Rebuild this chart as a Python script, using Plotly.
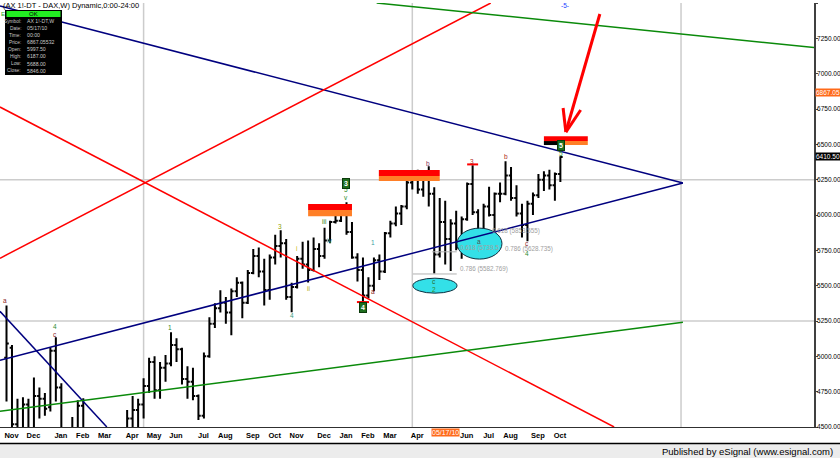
import plotly.graph_objects as go
import pandas as pd

# ---------------- data (weekly bars, first bar = week of 2008-11-03) ----------------
FIRST_WEEK = pd.Timestamp("2008-11-03")

opens = [4990, 5060, 4520, 4130, 4660, 4380, 4720, 4700, 4640, 5040,
         4780, 4420, 4200, 4350, 4650, 4460, 4200, 3880, 3700, 3960,
         4020, 4160, 4420, 4560, 4620, 4660, 4790, 4960, 4760, 4920,
         4950, 5080, 5050, 4840, 4820, 4720, 4580, 5000, 5230, 5340,
         5380, 5310, 5460, 5520, 5380, 5590, 5710, 5600, 5470, 5700,
         5780, 5800, 5420, 5490, 5690, 5650, 5610, 5760, 5710, 5820,
         5950, 5960, 6040, 5880, 5700, 5610, 5430, 5500, 5680, 5600,
         5870, 5940, 6010, 6060, 6230, 6260, 6180, 6260, 6150, 5720,
         5950, 5830, 5940, 5770, 5970, 6220, 6020, 5830, 6060, 6000,
         6150, 6150, 6280, 6120, 6010, 5930, 6080, 6140, 6250, 6280,
         6210, 6290]
highs = [5360, 5080, 4700, 4710, 4700, 4850, 4780, 4740, 5063, 5135,
         4810, 4460, 4570, 4690, 4703, 4480, 4270, 3920, 4000, 4100,
         4280, 4480, 4620, 4720, 4700, 4845, 4990, 5000, 4960, 5010,
         5170, 5128, 5060, 4930, 4920, 4730, 5027, 5277, 5375, 5467,
         5420, 5480, 5560, 5530, 5610, 5760, 5770, 5690, 5720, 5860,
         5892, 5830, 5520, 5710, 5810, 5820, 5840, 5800, 5910, 5960,
         6030, 6060, 6090, 5950, 5730, 5700, 5560, 5700, 5720, 5880,
         5960, 6060, 6070, 6240, 6280, 6320, 6290, 6345, 6196, 6120,
         6100, 5970, 6030, 5990, 6230, 6352, 6040, 6080, 6200, 6160,
         6230, 6380, 6340, 6210, 6080, 6100, 6160, 6290, 6310, 6320,
         6300, 6415]
lows = [4680, 4400, 4000, 4050, 4200, 4350, 4560, 4580, 4610, 4680,
        4330, 4150, 4100, 4300, 4420, 4150, 3850, 3590, 3650, 3900,
        3950, 4050, 4380, 4450, 4470, 4560, 4740, 4700, 4700, 4820,
        4930, 4960, 4800, 4700, 4690, 4550, 4560, 4990, 5200, 5310,
        5230, 5150, 5420, 5270, 5370, 5580, 5560, 5360, 5400, 5650,
        5700, 5400, 5312, 5480, 5620, 5522, 5600, 5630, 5690, 5800,
        5940, 5950, 5860, 5690, 5530, 5382, 5410, 5460, 5540, 5590,
        5840, 5920, 5930, 6040, 6180, 6150, 6130, 6060, 5586, 5700,
        5650, 5603, 5750, 5690, 5960, 6000, 5810, 5815, 5990, 5860,
        6090, 6140, 6100, 5990, 5840, 5815, 6000, 6120, 6170, 6180,
        6100, 6233]
closes = [5090, 4520, 4130, 4660, 4380, 4720, 4700, 4630, 5040, 4780,
          4420, 4200, 4350, 4650, 4460, 4200, 3880, 3700, 3960, 4020,
          4160, 4420, 4560, 4620, 4660, 4790, 4960, 4760, 4920, 4950,
          5080, 5050, 4840, 4820, 4720, 4580, 5000, 5230, 5340, 5380,
          5310, 5460, 5520, 5380, 5590, 5710, 5600, 5470, 5700, 5780,
          5800, 5420, 5490, 5690, 5650, 5610, 5760, 5710, 5820, 5950,
          5960, 6040, 5880, 5700, 5610, 5430, 5500, 5680, 5600, 5870,
          5940, 6010, 6060, 6230, 6260, 6180, 6260, 6150, 5720, 5950,
          5830, 5940, 5770, 5970, 6220, 6020, 5830, 6060, 6000, 6150,
          6150, 6280, 6120, 6010, 5930, 6080, 6140, 6250, 6280, 6210,
          6290, 6410.5]

month_ticks = ["2008-11-03", "2008-12-01", "2009-01-05", "2009-02-02", "2009-03-02",
               "2009-04-06", "2009-05-04", "2009-06-01", "2009-07-06", "2009-08-03",
               "2009-09-07", "2009-10-05", "2009-11-02", "2009-12-07", "2010-01-04",
               "2010-02-01", "2010-03-01", "2010-04-05", "2010-06-07", "2010-07-05",
               "2010-08-02", "2010-09-06", "2010-10-04"]
month_labels = ["Nov", "Dec", "Jan<br>2009", "Feb", "Mar", "Apr", "May", "Jun", "Jul",
                "Aug", "Sep", "Oct", "Nov", "Dec", "Jan<br>2010", "Feb", "Mar", "Apr",
                "Jun", "Jul", "Aug", "Sep", "Oct"]
price_ticks = list(range(4500, 7501, 250))

# drawn objects, in (week offset from first bar, price)
blue_lines = [[(-1.19, 7479), (123.35, 6226)],
              [(-1.19, 4972), (123.35, 6226)],
              [(-1.19, 5319), (18.3, 4500)]]
red_lines = [[(-1.19, 6764), (110.8, 4500)],
             [(-1.19, 5694), (88.3, 7500)]]
green_lines = [[(-1.19, 4611), (123.35, 5241)],
               [(67.5, 7500), (147.25, 7185)]]
arrow_lines = [[(108.2, 7422), (102.0, 6587)],
               [(101.5, 6757), (102.0, 6587)],
               [(104.7, 6743), (102.0, 6587)]]
# supply zones: week from, week to, red band, orange band
zones = [(55.0, 63.0, (6035, 6077), (5992, 6035)),
         (67.9, 79.0, (6276, 6318), (6240, 6276)),
         (98.0, 106.0, (6523, 6558), (6495, 6523))]
black_block = (98.0, 100.4, 6495, 6523)
ellipses = [(74.1, 82.15, 5447, 5553), (82.15, 90.35, 5688, 5907)]
fib_lines = [(74.1, 82.1, 5582.769), (77.6, 82.1, 5739.5)]
fib_texts = [("0.618 (5853.555)", 88.2, 5886), ("0.618 (5739.5", 82.3, 5770),
             ("0.786 (5628.735)", 90.6, 5762), ("0.786 (5582.769)", 82.3, 5620)]
grid_weeks = [25, 74, 123]
grid_prices = [5250, 6250]
# wave labels: text, week, price, colour
wave_labels = [("a", -0.27, 5397, "#8b1a1a"), ("4", 8.84, 5212, "#2e8b2e"), ("c", 8.84, 5158, "#8b1a1a"),
               ("1", 29.8, 5206, "#2e8b2e"), ("3", 49.87, 5921, "#8fa000"), ("i", 52.97, 5765, "#c8b400"),
               ("4", 52.06, 5290, "#3c9a7a"), ("ii", 54.98, 5482, "#b0a000"), ("iii", 57.9, 5956, "#2a7a00"),
               ("iv", 58.99, 5822, "#3aa0a0"), ("5", 61.9, 6178, "#2e8b2e"), ("v", 61.9, 6122, "#2e8b2e"),
               ("a", 66.83, 5460, "#8b1a1a"), ("1", 66.83, 5807, "#3aa0a0"), ("b", 76.86, 6366, "#8b3a62"),
               ("c", 77.95, 5527, "#2a6a2a"), ("2", 77.95, 5471, "#2e8b2e"), ("3", 84.88, 6380, "#b22222"),
               ("a", 86.16, 5814, "#505050"), ("b", 91.08, 6415, "#b03020"), ("c", 94.9, 5797, "#8b1a1a"),
               ("4", 94.9, 5730, "#2e8b2e"), ("5", 101.1, 6438, "#2e8b2e"), ("-5-", 101.8, 7480, "#2040ff")]
boxed_labels = [("3", 61.9, 6224), ("4", 65.0, 5347), ("5", 101.1, 6494)]
red_ticks = [(84.0, 86.0, 6358), (63.9, 66.1, 5384)]

info_rows = [("Symbol:", "AX 1!-DT,W"), ("Date:", "05/17/10"), ("Time:", "00:00"),
             ("Price:", "6867.05532"), ("Open:", "5997.50"), ("High:", "6187.00"),
             ("Low:", "5688.00"), ("Close:", "5846.00")]
cursor_price = 6867.05
last_price = 6410.50
cursor_date = "2010-05-17"

# ---------------- figure ----------------
W, H = 840, 458
ML, MR, MT, MB = 0, 26, 3, 31
PW, PH = W - ML - MR, H - MT - MB


def wk(w):
    return (FIRST_WEEK + pd.Timedelta(days=7 * w)).strftime("%Y-%m-%d %H:%M")


def px(x):
    return x / PW


def py(y):
    return (PH + MT - y) / PH


dates = [wk(i) for i in range(len(opens))]

fig = go.Figure(go.Ohlc(
    x=dates, open=opens, high=highs, low=lows, close=closes,
    increasing=dict(line=dict(color="black", width=2)),
    decreasing=dict(line=dict(color="black", width=2)),
    tickwidth=0.42, hoverinfo="skip"))

shapes = []
for w in grid_weeks:
    shapes.append(dict(type="line", xref="x", yref="paper", x0=wk(w), x1=wk(w), y0=0, y1=1,
                       line=dict(color="#cccccc", width=1.5), layer="below"))
for p in grid_prices:
    shapes.append(dict(type="line", xref="paper", yref="y", x0=0, x1=1, y0=p, y1=p,
                       line=dict(color="#cccccc", width=1.5), layer="below"))


def add_lines(lines, color, width):
    for (a, b) in lines:
        shapes.append(dict(type="line", xref="x", yref="y", x0=wk(a[0]), y0=a[1],
                           x1=wk(b[0]), y1=b[1], line=dict(color=color, width=width)))


for w0, w1, red, orange in zones:
    shapes.append(dict(type="rect", xref="x", yref="y", x0=wk(w0), x1=wk(w1), y0=red[0], y1=red[1],
                       fillcolor="#ff0000", line=dict(width=0)))
    shapes.append(dict(type="rect", xref="x", yref="y", x0=wk(w0), x1=wk(w1), y0=orange[0], y1=orange[1],
                       fillcolor="#ff7f27", line=dict(width=0)))
shapes.append(dict(type="rect", xref="x", yref="y", x0=wk(black_block[0]), x1=wk(black_block[1]),
                   y0=black_block[2], y1=black_block[3], fillcolor="black", line=dict(width=0)))
for w0, w1, p0, p1 in ellipses:
    shapes.append(dict(type="circle", xref="x", yref="y", x0=wk(w0), x1=wk(w1), y0=p0, y1=p1,
                       fillcolor="#33e0e8", line=dict(color="#103040", width=1)))
for w0, w1, p in fib_lines:
    shapes.append(dict(type="line", xref="x", yref="y", x0=wk(w0), x1=wk(w1), y0=p, y1=p,
                       line=dict(color="#b0b0b0", width=1)))
for w0, w1, p in red_ticks:
    shapes.append(dict(type="line", xref="x", yref="y", x0=wk(w0), x1=wk(w1), y0=p, y1=p,
                       line=dict(color="#ff0000", width=2)))

add_lines(blue_lines, "#00007f", 1.5)
add_lines(red_lines, "#ff0000", 1.5)
add_lines(green_lines, "#0a8a0a", 1.5)
add_lines(arrow_lines, "#ff0000", 3)

# info box + footer (paper decorations)
shapes.append(dict(type="rect", xref="paper", yref="paper", x0=px(5), x1=px(62), y0=py(75), y1=py(10),
                   fillcolor="black", line=dict(width=0)))
shapes.append(dict(type="rect", xref="paper", yref="paper", x0=px(6.5), x1=px(60.5), y0=py(17), y1=py(11),
                   fillcolor="#22ee22", line=dict(width=0)))
shapes.append(dict(type="rect", xref="paper", yref="paper", x0=0, x1=px(W), y0=py(H), y1=py(443),
                   fillcolor="#ececec", line=dict(width=0)))
shapes.append(dict(type="line", xref="paper", yref="paper", x0=0, x1=px(W), y0=py(443.5), y1=py(443.5),
                   line=dict(color="black", width=1.5)))

SMALL = "Liberation Sans"
ann = []


def paper_text(x, y, text, size, color, xanchor="center", **kw):
    ann.append(dict(x=px(x), y=py(y), xref="paper", yref="paper", xanchor=xanchor, yanchor="middle",
                    text=text, showarrow=False, font=dict(family=SMALL, size=size, color=color), **kw))


for t, w, p, c in wave_labels:
    ann.append(dict(x=wk(w), y=p, xref="x", yref="y", text=t, showarrow=False,
                    font=dict(family=SMALL, size=6.5, color=c)))
for t, w, p in boxed_labels:
    ann.append(dict(x=wk(w), y=p, xref="x", yref="y", text="<b>" + t + "</b>", showarrow=False,
                    font=dict(family=SMALL, size=7, color="white"), bgcolor="#1e6e1e",
                    bordercolor="#0a3a0a", borderpad=1))
for t, w, p in fib_texts:
    ann.append(dict(x=wk(w), y=p, xref="x", yref="y", text=t, showarrow=False, xanchor="left",
                    font=dict(family=SMALL, size=6.3, color="#a0a0a0")))

paper_text(1, 5.5, "(AX 1!-DT - DAX,W) Dynamic,0:00-24:00", 7.5, "black", xanchor="left")
paper_text(33, 14, "OK", 6, "black")
paper_text(3, 14, "E", 6, "#22aa22")
for k, (lab, val) in enumerate(info_rows):
    yy = 21 + 7.1 * k
    paper_text(22.5, yy, lab, 4.8, "#c8c8c8", xanchor="right")
    paper_text(24.5, yy, val, 5.2, "#c8c8c8", xanchor="left")

ann.append(dict(x=px(815), y=cursor_price, xref="paper", yref="y", xanchor="left", yanchor="middle",
                text="6867.05", showarrow=False, bgcolor="#ff6a1a", borderpad=0,
                font=dict(family=SMALL, size=6.5, color="white")))
ann.append(dict(x=px(815), y=last_price, xref="paper", yref="y", xanchor="left", yanchor="middle",
                text="6410.50", showarrow=False, bgcolor="black", borderpad=0,
                font=dict(family=SMALL, size=6.5, color="white")))
ann.append(dict(x=cursor_date, y=py(432), xref="x", yref="paper", yanchor="middle", text="05/17/10",
                showarrow=False, bgcolor="#ff6a1a", borderpad=0,
                font=dict(family=SMALL, size=7, color="white")))
paper_text(835, 451, "Published by eSignal (www.esignal.com)", 9.5, "black", xanchor="right")

fig.update_layout(
    width=W, height=H, margin=dict(l=ML, r=MR, t=MT, b=MB, autoexpand=False),
    paper_bgcolor="white", plot_bgcolor="white", showlegend=False,
    shapes=shapes, annotations=ann,
    xaxis=dict(type="date", range=[wk(-1.185), wk(147.25)], rangeslider=dict(visible=False),
               tickvals=month_ticks, ticktext=month_labels, showgrid=False, zeroline=False,
               showline=True, linecolor="#303030", linewidth=1, ticks="", automargin=False,
               tickfont=dict(family=SMALL, size=7.5, color="black", weight="bold"),
               ticklabelshift=5, ticklabelstandoff=1),
    yaxis=dict(side="right", range=[4500, 7500], tickvals=price_ticks, tickformat=".2f",
               showgrid=False, zeroline=False, showline=True, linecolor="#404040", linewidth=1.5,
               ticks="outside", ticklen=2, tickcolor="#404040", automargin=False,
               ticklabelstandoff=-2,
               tickfont=dict(family=SMALL, size=6.5, color="black")),
)

fig.write_html("out.html", config={"displayModeBar": False},
               post_script="document.body.style.margin='0px';")
